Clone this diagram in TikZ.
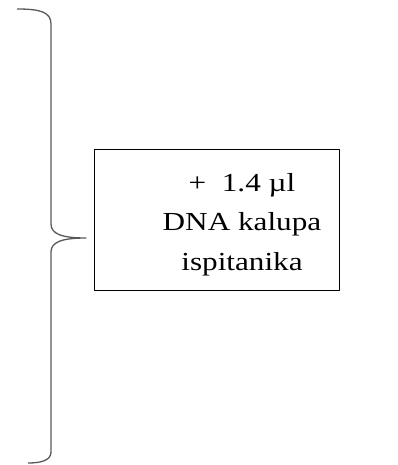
\documentclass[tikz,border=0pt]{standalone}
\usepackage{fontspec}
\setmainfont{Liberation Serif}
\newfontfamily\widerm[FakeStretch=1.2]{Liberation Serif}

\begin{document}
\begin{tikzpicture}[x=1pt,y=-1pt,line join=round]
    \useasboundingbox (0,0) rectangle (398,465);

    % draw the curly brace
    \coordinate (topend) at (17,9);
    \coordinate (tip) at (86,238);
    \coordinate (botend) at (28,463);
    \draw[line width=1.3pt, color=black!65]
        (topend) .. controls (40,9) and (51,12) .. (51,24) -- (51,224)
        .. controls (51,234) and (62,238) .. (tip)
        .. controls (62,238) and (51,242) .. (51,252) -- (51,452)
        .. controls (51,460) and (42,463) .. (botend);

    % draw the box and its text
    % the text sits right of the box centre, as in the source
    \node[draw, line width=0.8pt, minimum width=245pt, minimum height=141pt,
          inner sep=0pt] (box) at (216.5,219.5) {};
    \node[align=center, inner sep=0pt,
          font=\widerm\fontsize{26}{39.5}\selectfont] (label) at (242,224.6)
          {+\ \ 1.4 µl\\DNA kalupa\\ispitanika};
\end{tikzpicture}
\end{document}
